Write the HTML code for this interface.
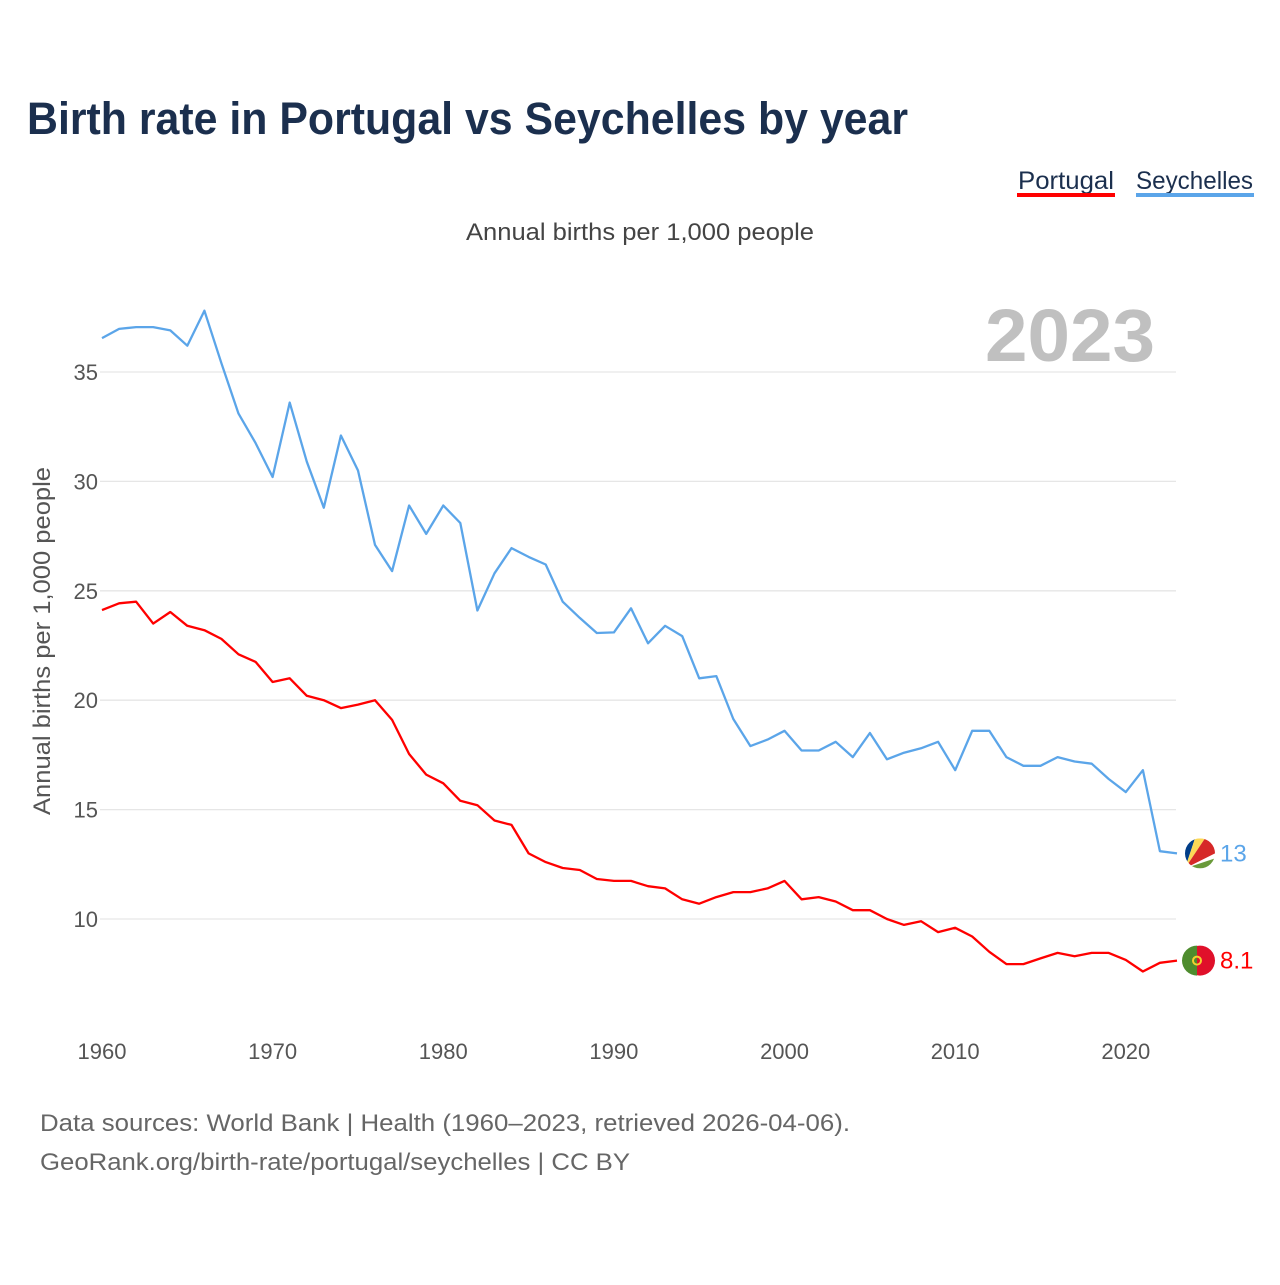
<!DOCTYPE html>
<html><head><meta charset="utf-8"><style>
body{margin:0;background:#fff;}
svg text{font-family:"Liberation Sans",sans-serif;}
</style></head><body>
<svg id="chart" width="1280" height="1280" viewBox="0 0 1280 1280" xmlns="http://www.w3.org/2000/svg">
<text x="27" y="134" font-size="45" font-weight="bold" fill="#1b2f4e" textLength="881" lengthAdjust="spacingAndGlyphs">Birth rate in Portugal vs Seychelles by year</text>
<g><text x="1018" y="189" font-size="25" fill="#1b2f4e" textLength="96" lengthAdjust="spacingAndGlyphs">Portugal</text><rect x="1017" y="193" width="98" height="4" fill="#ff0000"/></g>
<g><text x="1136" y="189" font-size="25" fill="#1b2f4e" textLength="117" lengthAdjust="spacingAndGlyphs">Seychelles</text><rect x="1136" y="193" width="118" height="4" fill="#5ba5e9"/></g>
<text x="466" y="240" font-size="24" fill="#444" textLength="348" lengthAdjust="spacingAndGlyphs">Annual births per 1,000 people</text>
<text x="985" y="361" font-size="74" font-weight="bold" fill="#c0c0c0" textLength="170" lengthAdjust="spacingAndGlyphs">2023</text>
<text transform="translate(50,815) rotate(-90)" font-size="24" fill="#555" textLength="348" lengthAdjust="spacingAndGlyphs">Annual births per 1,000 people</text>
<g id="grid"></g><g id="xt"></g><g id="lines"></g>
<text x="40" y="1131" font-size="24" fill="#666" textLength="810" lengthAdjust="spacingAndGlyphs">Data sources: World Bank | Health (1960–2023, retrieved 2026-04-06).</text>
<text x="40" y="1170" font-size="24" fill="#666" textLength="590" lengthAdjust="spacingAndGlyphs">GeoRank.org/birth-rate/portugal/seychelles | CC BY</text>
</svg>
<script>
const years = [];
for (let y = 1960; y <= 2023; y++) years.push(y);
const portugal = [24.12,24.43,24.5,23.5,24.03,23.4,23.2,22.8,22.1,21.75,20.83,21.0,20.2,20.0,19.64,19.8,20.0,19.1,17.54,16.6,16.2,15.4,15.2,14.5,14.3,13.0,12.6,12.33,12.24,11.83,11.74,11.74,11.5,11.4,10.9,10.7,11.0,11.23,11.23,11.4,11.74,10.9,11.0,10.8,10.4,10.4,10.0,9.73,9.9,9.4,9.6,9.2,8.5,7.94,7.94,8.2,8.45,8.3,8.45,8.45,8.13,7.6,8.0,8.1];
const seychelles = [36.55,36.97,37.05,37.05,36.9,36.2,37.8,35.4,33.1,31.75,30.2,33.6,30.9,28.8,32.1,30.5,27.1,25.9,28.9,27.6,28.9,28.1,24.1,25.8,26.95,26.55,26.2,24.5,23.76,23.07,23.1,24.2,22.6,23.4,22.93,21.0,21.1,19.14,17.9,18.2,18.6,17.7,17.7,18.1,17.4,18.5,17.3,17.6,17.8,18.1,16.8,18.6,18.6,17.4,17.0,17.0,17.4,17.2,17.1,16.4,15.8,16.8,13.1,13.0];
const yTicks = [10,15,20,25,30,35];
const xTicks = [1960,1970,1980,1990,2000,2010,2020];
const endLabels = ["8.1","13"];

const NS="http://www.w3.org/2000/svg";
const xs = yr => 102 + (yr-1960)*(1177-102)/63;
const ys = v => 919 - (v-10)*(919-372)/25;
function mk(tag, attrs, parent, txt){const e=document.createElementNS(NS,tag);for(const k in attrs)e.setAttribute(k,attrs[k]);if(txt!==undefined)e.textContent=txt;parent.appendChild(e);return e;}
const grid=document.getElementById('grid'), xt=document.getElementById('xt'), lines=document.getElementById('lines');
yTicks.forEach(t=>{
  const l=mk('line',{x1:100,x2:1176,y1:ys(t),y2:ys(t),stroke:'#e6e6e6','stroke-width':1.3},grid);
  
  
  const tx=mk('text',{x:98,y:ys(t)+8,'font-size':22,fill:'#555','text-anchor':'end'},grid,String(t));
  
  
});
xTicks.forEach(t=>{
  const tx=mk('text',{x:xs(t),y:1059,'font-size':22,fill:'#555','text-anchor':'middle'},xt,String(t));
  
  
});
function series(vals,color,name){
  const d=vals.map((v,i)=>(i?'L':'M')+xs(years[i]).toFixed(1)+','+ys(v).toFixed(1)).join('');
  const p=mk('path',{d:d,fill:'none',stroke:color,'stroke-width':2.3,'stroke-linejoin':'round'},lines);
  
  
}
series(seychelles,'#5ba5e9','seychelles');
series(portugal,'#ff0000','portugal');
const sy=ys(seychelles[seychelles.length-1]), cx=1200;
const gS=mk('g',{},lines);


const cp=mk('clipPath',{id:'cs'},gS);
mk('circle',{cx:cx,cy:sy,r:15},cp);
const fg=mk('g',{'clip-path':'url(#cs)'},gS);
const bx=cx-15, by=sy+15;
mk('rect',{x:cx-15,y:sy-15,width:30,height:30,fill:'#fff'},fg);
mk('polygon',{points:`${bx},${by} ${bx},${sy-15} ${cx-5},${sy-15}`,fill:'#003d88'},fg);
mk('polygon',{points:`${bx},${by} ${cx-5},${sy-15} ${cx+5},${sy-15}`,fill:'#fcd856'},fg);
mk('polygon',{points:`${bx},${by} ${cx+5},${sy-15} ${cx+15},${sy-15} ${cx+15},${sy}`,fill:'#d62828'},fg);
mk('polygon',{points:`${bx},${by} ${cx+15},${sy+5} ${cx+15},${sy+15}`,fill:'#6a9a3a'},fg);
const t1=mk('text',{x:1220,y:sy+8,'font-size':24,fill:'#5ba5e9'},lines,endLabels[1]);


const py=ys(portugal[portugal.length-1]);
const gP=mk('g',{},lines);


mk('circle',{cx:cx,cy:py,r:15,fill:'#e0102a'},gP);
mk('path',{d:`M${cx-3},${py-15} A15,15 0 0 0 ${cx-3},${py+15} Z`,fill:'#4e8c2e'},gP);
mk('circle',{cx:cx-3,cy:py,r:4,fill:'none',stroke:'#f6d02f','stroke-width':2},gP);
const t2=mk('text',{x:1220,y:py+8,'font-size':24,fill:'#ff0000'},lines,endLabels[0]);


</script>
</body></html>
